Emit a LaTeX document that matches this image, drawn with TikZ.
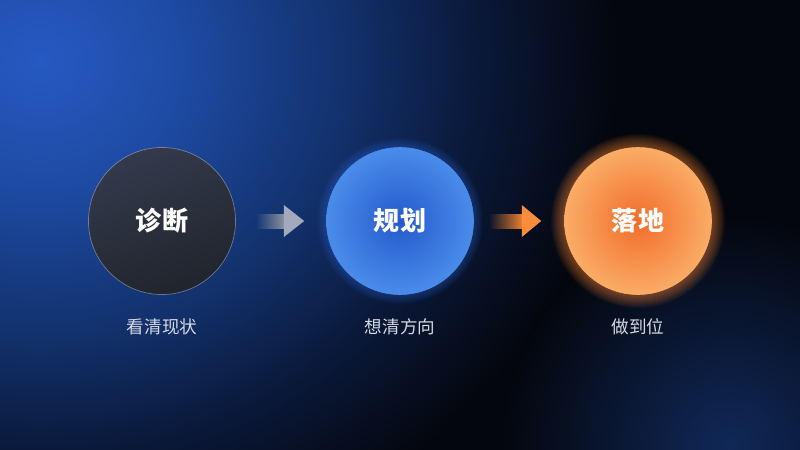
\documentclass[tikz,border=0pt]{standalone}
\usepackage{fontspec}
\usetikzlibrary{calc,fadings}
\newfontfamily\cjk{Noto Sans CJK SC}

\definecolor{bgdark}{HTML}{04060D}
\definecolor{glowA}{HTML}{2659C2}
\definecolor{glowB}{HTML}{1E4BA4}
\definecolor{glowC}{HTML}{13326E}
\definecolor{glowD}{HTML}{0A1838}
\definecolor{lowblue}{HTML}{102858}
\definecolor{darktop}{HTML}{343A4C}
\definecolor{darkbot}{HTML}{20242C}
\definecolor{bluein}{HTML}{2459CC}
\definecolor{blueout}{HTML}{4A8CEA}
\definecolor{blueglow}{HTML}{3A7BFF}
\definecolor{orangein}{HTML}{F26C2A}
\definecolor{orangeout}{HTML}{FAAC66}
\definecolor{orangeglow}{HTML}{FF8A3C}
\definecolor{greyarrow}{HTML}{A3AABD}
\definecolor{orangearrow}{HTML}{FF8C3A}
\definecolor{capgray}{HTML}{D5DAE3}

\pgfdeclareradialshading{skyglow}{\pgfpoint{0bp}{0bp}}{color(0bp)=(glowA); color(6bp)=(glowB); color(13bp)=(glowC); color(19bp)=(glowD); color(25bp)=(bgdark); color(50bp)=(bgdark)}
\tikzfading[name=fadein, left color=transparent!100, right color=transparent!0]

\begin{document}
\begin{tikzpicture}[x=0.025cm, y=-0.025cm,
	bubble/.style={circle, minimum size=3.675cm, inner sep=0pt, text=white, font=\cjk\bfseries\fontsize{18.5}{20}\selectfont},
	caption/.style={text=capgray, font=\cjk\fontsize{12.5}{14}\selectfont}]
	\useasboundingbox (0,0) rectangle (800,449);
	% background
	\fill[bgdark] (-2,-2) rectangle (802,451);
	\begin{scope}
		\clip (-2,-2) rectangle (802,451);
		\shade[shading=skyglow] (40,60) ellipse (580 and 520);
		\shade[inner color=lowblue, outer color=bgdark] (730,445) circle (230);
	\end{scope}
	\coordinate (p1) at (162,221); \coordinate (p2) at (400,221); \coordinate (p3) at (638,221);
	% halos
	\foreach \i in {1,...,10} \fill[blueglow, opacity=0.035] (p2) circle (73+\i);
	\foreach \i in {1,...,14} \fill[orangeglow, opacity=0.045] (p3) circle (73+\i);
	% steps
	\node[bubble, top color=darktop, bottom color=darkbot, shading angle=20, draw=white, draw opacity=0.35, line width=0.5pt] (diag) at (p1) {诊断};
	\node[bubble, inner color=bluein, outer color=blueout, draw=blueout, line width=0.4pt] (plan) at (p2) {规划};
	\node[bubble, inner color=orangein, outer color=orangeout, draw=orangeout, line width=0.4pt] (land) at (p3) {落地};
	% arrows
	\fill[greyarrow!85!black, path fading=fadein] ($(diag.east)+(20,-7.5)$) rectangle ($(diag.east)+(48,7.5)$);
	\fill[greyarrow] ($(diag.east)+(48,-16)$) -- ($(plan.west)+(-22,0)$) -- ($(diag.east)+(48,16)$) -- cycle;
	\fill[orangearrow!90!black, path fading=fadein] ($(plan.east)+(15,-7.5)$) rectangle ($(plan.east)+(48,7.5)$);
	\fill[orangearrow] ($(plan.east)+(48,-16)$) -- ($(land.west)+(-23,0)$) -- ($(plan.east)+(48,16)$) -- cycle;
	% captions
	\node[caption] (diagcap) at ($(diag)+(0,106)$) {看清现状};
	\node[caption] (plancap) at ($(plan)+(0,106)$) {想清方向};
	\node[caption] (landcap) at ($(land)+(0,106)$) {做到位};
\end{tikzpicture}
\end{document}
